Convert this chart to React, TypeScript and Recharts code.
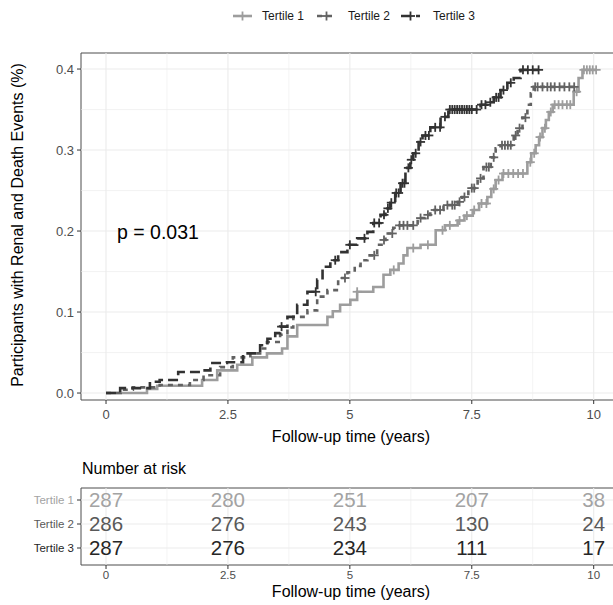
import React from 'react';
import {
  ComposedChart,
  Line,
  Scatter,
  XAxis,
  YAxis,
  ReferenceLine,
  ReferenceArea,
} from 'recharts';

const FONT = '"Liberation Sans", Arial, Helvetica, sans-serif';

// ---------- data ----------
const strataNames = ['Tertile 1', 'Tertile 2', 'Tertile 3'];

// Kaplan-Meier cumulative incidence steps: [time (years), cumulative proportion]
const tertile1Steps: [number, number][] = [
  [0, 0], [0.84, 0.005], [1.05, 0.009], [1.97, 0.016], [2.28, 0.028], [2.69, 0.035],
  [3.0, 0.044], [3.3, 0.049], [3.61, 0.055], [3.72, 0.07], [3.92, 0.084], [4.54, 0.094],
  [4.65, 0.101], [4.8, 0.109], [5.01, 0.115], [5.15, 0.125], [5.48, 0.131], [5.69, 0.146],
  [5.83, 0.152], [6.0, 0.16], [6.1, 0.17], [6.18, 0.179], [6.45, 0.183], [6.76, 0.201],
  [6.95, 0.207], [7.21, 0.213], [7.35, 0.219], [7.52, 0.226], [7.65, 0.234], [7.82, 0.242],
  [7.9, 0.252], [7.99, 0.263], [8.13, 0.271], [8.64, 0.285], [8.72, 0.296], [8.81, 0.306],
  [8.88, 0.316], [8.95, 0.327], [9.02, 0.337], [9.08, 0.347], [9.16, 0.356], [9.59, 0.372],
  [9.69, 0.389], [9.77, 0.399], [10.05, 0.399],
];
const tertile2Steps: [number, number][] = [
  [0, 0], [0.3, 0.004], [0.55, 0.007], [1.1, 0.01], [1.72, 0.016], [2.0, 0.022],
  [2.34, 0.032], [2.6, 0.044], [2.96, 0.049], [3.16, 0.055], [3.3, 0.063], [3.57, 0.072],
  [3.72, 0.081], [3.84, 0.094], [4.13, 0.102], [4.33, 0.119], [4.54, 0.127], [4.76, 0.142],
  [4.95, 0.149], [5.1, 0.157], [5.22, 0.164], [5.36, 0.17], [5.56, 0.183], [5.65, 0.189],
  [5.73, 0.197], [5.89, 0.204], [5.98, 0.207], [6.39, 0.216], [6.55, 0.22], [6.65, 0.226],
  [6.92, 0.232], [7.21, 0.236], [7.3, 0.242], [7.43, 0.253], [7.62, 0.265], [7.74, 0.279],
  [7.89, 0.291], [7.99, 0.302], [8.09, 0.306], [8.36, 0.318], [8.44, 0.327], [8.54, 0.34],
  [8.64, 0.356], [8.71, 0.37], [8.77, 0.378], [9.67, 0.378],
];
const tertile3Steps: [number, number][] = [
  [0, 0], [0.29, 0.006], [0.9, 0.014], [1.1, 0.016], [1.48, 0.026], [1.93, 0.028],
  [2.14, 0.037], [2.48, 0.038], [2.81, 0.049], [3.16, 0.059], [3.31, 0.067], [3.47, 0.074],
  [3.57, 0.082], [3.72, 0.094], [3.92, 0.109], [4.13, 0.125], [4.33, 0.14], [4.44, 0.156],
  [4.6, 0.164], [4.76, 0.174], [4.95, 0.183], [5.15, 0.191], [5.36, 0.199], [5.48, 0.21],
  [5.63, 0.22], [5.73, 0.228], [5.83, 0.235], [5.93, 0.247], [6.04, 0.259], [6.14, 0.278],
  [6.24, 0.288], [6.3, 0.296], [6.41, 0.31], [6.49, 0.318], [6.65, 0.328], [6.86, 0.341],
  [7.02, 0.35], [7.68, 0.356], [7.82, 0.359], [7.95, 0.365], [8.09, 0.374], [8.23, 0.383],
  [8.36, 0.389], [8.5, 0.399], [8.87, 0.399],
];

// censoring times (years)
const tertile1Censors = [
  5.15, 5.9, 6.3, 6.6, 6.9, 7.05, 7.25, 7.4, 7.55, 7.7, 7.8, 7.95, 8.05, 8.15, 8.25, 8.35,
  8.45, 8.55, 8.7, 8.78, 8.9, 9.0, 9.12, 9.2, 9.28, 9.36, 9.45, 9.52, 9.65, 9.8, 9.86, 9.92,
  9.98, 10.05,
];
const tertile2Censors = [
  4.9, 5.5, 5.7, 5.87, 6.02, 6.1, 6.18, 6.3, 6.45, 6.6, 6.75, 6.85, 7.0, 7.1, 7.15, 7.25,
  7.35, 7.5, 7.55, 7.68, 7.8, 7.85, 7.95, 8.12, 8.18, 8.24, 8.3, 8.4, 8.48, 8.6, 8.8, 8.85,
  8.95, 9.05, 9.12, 9.2, 9.3, 9.4, 9.5, 9.6,
];
const tertile3Censors = [
  3.6, 4.3, 4.7, 5.0, 5.3, 5.5, 5.6, 5.7, 5.78, 5.85, 5.95, 6.0, 6.08, 6.12, 6.2, 6.26,
  6.35, 6.45, 6.55, 6.62, 6.75, 6.85, 6.95, 7.05, 7.1, 7.15, 7.2, 7.25, 7.3, 7.35, 7.4,
  7.45, 7.5, 7.6, 7.7, 7.78, 7.88, 8.0, 8.05, 8.15, 8.3, 8.55, 8.65, 8.75, 8.87,
];

// number at risk at the time ticks
const atRiskTertile1 = [287, 280, 251, 207, 38];
const atRiskTertile2 = [286, 276, 243, 130, 24];
const atRiskTertile3 = [287, 276, 234, 111, 17];

const timeTicks = [0, 2.5, 5, 7.5, 10];
const timeMinorTicks = [1.25, 3.75, 6.25, 8.75];
const riskTicks = [0, 0.1, 0.2, 0.3, 0.4];
const riskMinorTicks = [0.05, 0.15, 0.25, 0.35];
const pValueLabel = 'p = 0.031';

// ---------- styling ----------
const strataColors = ['#9d9d9d', '#626262', '#323232'];
const tableTextColors = ['#a3a3a3', '#595959', '#262626'];
const strataDash = ['', '5 5', '10 5'];
const LINE_W = 2.6;
const GRID = '#ebebeb';
const BORDER = '#4d4d4d';

const X_DOMAIN: [number, number] = [-0.513, 10.56];
const Y_DOMAIN: [number, number] = [-0.0086, 0.4198];
const ROW_DOMAIN: [number, number] = [0.5, 3.708];

const allSteps = [tertile1Steps, tertile2Steps, tertile3Steps];
const allCensors = [tertile1Censors, tertile2Censors, tertile3Censors];
const allAtRisk = [atRiskTertile1, atRiskTertile2, atRiskTertile3];

const stepValueAt = (steps: [number, number][], t: number) => {
  let v = 0;
  for (const [x, y] of steps) {
    if (x <= t + 1e-9) v = y;
  }
  return v;
};

const lineData = allSteps.map((steps) => steps.map(([x, y]) => ({ x, y })));
const censorData = allCensors.map((times, i) =>
  times.map((t) => ({ x: t, y: stepValueAt(allSteps[i], t) }))
);
const tableData = allAtRisk.map((vals, i) =>
  vals.map((n, j) => ({ x: timeTicks[j], y: i + 1, n }))
);

const fmtTime = (v: number) => String(v);
const fmtRisk = (v: number) => v.toFixed(1);

const makePlus = (color: string) => (props: any) => {
  const { cx, cy } = props;
  if (cx == null || cy == null) return <g />;
  const a = 4.5;
  return (
    <g>
      <line x1={cx - a} x2={cx + a} y1={cy} y2={cy} stroke={color} strokeWidth={1.8} />
      <line x1={cx} x2={cx} y1={cy - a} y2={cy + a} stroke={color} strokeWidth={1.8} />
    </g>
  );
};

const makeCount = (color: string) => (props: any) => {
  const { cx, cy, payload } = props;
  if (cx == null || cy == null) return <g />;
  return (
    <text
      x={cx}
      y={cy}
      dy="0.36em"
      textAnchor="middle"
      fill={color}
      fontSize={20.5}
      fontFamily={FONT}
    >
      {payload.n}
    </text>
  );
};

const RowTick = (props: any) => {
  const { x, y, payload } = props;
  const idx = Math.round(payload.value) - 1;
  return (
    <text
      x={x}
      y={y}
      dy="0.35em"
      textAnchor="end"
      fill={tableTextColors[idx]}
      fontSize={11.5}
      fontFamily={FONT}
    >
      {strataNames[idx]}
    </text>
  );
};

const tickStyle = { fill: '#4d4d4d', fontSize: 13, fontFamily: FONT };

export default function App() {
  return (
    <div
      style={{
        position: 'absolute',
        left: 0,
        top: 0,
        width: 613,
        height: 605,
        overflow: 'hidden',
        background: '#ffffff',
      }}
    >
      <div style={{ position: 'absolute', left: 0, top: 0 }}>
        <ComposedChart width={625} height={450} margin={{ top: 53, right: 4, bottom: 0, left: 0 }}>
          <XAxis
            type="number"
            dataKey="x"
            domain={X_DOMAIN}
            allowDataOverflow
            ticks={timeTicks}
            interval={0}
            tickFormatter={fmtTime}
            height={50}
            tickSize={4}
            tickMargin={6}
            axisLine={false}
            tickLine={{ stroke: '#333333' }}
            tick={tickStyle}
          />
          <YAxis
            type="number"
            dataKey="y"
            domain={Y_DOMAIN}
            allowDataOverflow
            ticks={riskTicks}
            interval={0}
            tickFormatter={fmtRisk}
            width={81}
            tickSize={4}
            tickMargin={3}
            axisLine={false}
            tickLine={{ stroke: '#333333' }}
            tick={tickStyle}
          />
          {riskMinorTicks.map((v) => (
            <ReferenceLine key={'ym' + v} y={v} stroke={GRID} strokeWidth={0.6} />
          ))}
          {timeMinorTicks.map((v) => (
            <ReferenceLine key={'xm' + v} x={v} stroke={GRID} strokeWidth={0.6} />
          ))}
          {riskTicks.map((v) => (
            <ReferenceLine key={'y' + v} y={v} stroke={GRID} strokeWidth={1.1} />
          ))}
          {timeTicks.map((v) => (
            <ReferenceLine key={'x' + v} x={v} stroke={GRID} strokeWidth={1.1} />
          ))}
          {lineData.map((d, i) => (
            <Line
              key={'l' + i}
              data={d}
              dataKey="y"
              type="stepAfter"
              stroke={strataColors[i]}
              strokeWidth={LINE_W}
              strokeDasharray={strataDash[i] || undefined}
              dot={false}
              activeDot={false}
              isAnimationActive={false}
            />
          ))}
          {censorData.map((d, i) => (
            <Scatter
              key={'c' + i}
              data={d}
              dataKey="y"
              shape={makePlus(strataColors[i])}
              isAnimationActive={false}
            />
          ))}
          <ReferenceArea
            x1={X_DOMAIN[0]}
            x2={X_DOMAIN[1]}
            y1={Y_DOMAIN[0]}
            y2={Y_DOMAIN[1]}
            fill="none"
            stroke={BORDER}
            strokeWidth={1}
            ifOverflow="visible"
          />
        </ComposedChart>
      </div>

      <div style={{ position: 'absolute', left: 0, top: 455 }}>
        <ComposedChart width={625} height={150} margin={{ top: 33, right: 4, bottom: 0, left: 0 }}>
          <XAxis
            type="number"
            dataKey="x"
            domain={X_DOMAIN}
            allowDataOverflow
            ticks={timeTicks}
            interval={0}
            tickFormatter={fmtTime}
            height={40}
            tickSize={4}
            tickMargin={2}
            axisLine={false}
            tickLine={{ stroke: '#333333' }}
            tick={{ fill: '#4d4d4d', fontSize: 11.5, fontFamily: FONT }}
          />
          <YAxis
            type="number"
            dataKey="y"
            domain={ROW_DOMAIN}
            reversed
            allowDataOverflow
            ticks={[1, 2, 3]}
            interval={0}
            width={81}
            tickSize={4}
            tickMargin={3}
            axisLine={false}
            tickLine={{ stroke: '#333333' }}
            tick={<RowTick />}
          />
          {timeMinorTicks.map((v) => (
            <ReferenceLine key={'txm' + v} x={v} stroke={GRID} strokeWidth={0.6} />
          ))}
          {timeTicks.map((v) => (
            <ReferenceLine key={'tx' + v} x={v} stroke={GRID} strokeWidth={1.1} />
          ))}
          {[1, 2, 3].map((v) => (
            <ReferenceLine key={'ty' + v} y={v} stroke={GRID} strokeWidth={1.1} />
          ))}
          {tableData.map((d, i) => (
            <Scatter
              key={'t' + i}
              data={d}
              dataKey="y"
              shape={makeCount(tableTextColors[i])}
              isAnimationActive={false}
            />
          ))}
          <ReferenceArea
            x1={X_DOMAIN[0]}
            x2={X_DOMAIN[1]}
            y1={ROW_DOMAIN[0]}
            y2={ROW_DOMAIN[1]}
            fill="none"
            stroke={BORDER}
            strokeWidth={1}
            ifOverflow="visible"
          />
        </ComposedChart>
      </div>

      <svg
        width={613}
        height={605}
        style={{ position: 'absolute', left: 0, top: 0, pointerEvents: 'none' }}
        fontFamily={FONT}
      >
        {/* legend */}
        {strataNames.map((name, i) => {
          const kx = [233, 317, 401][i];
          const tx = [262, 348, 433][i];
          return (
            <g key={name}>
              <line
                x1={kx}
                x2={kx + 19}
                y1={16}
                y2={16}
                stroke={strataColors[i]}
                strokeWidth={LINE_W}
                strokeDasharray={strataDash[i] || undefined}
              />
              {makePlus(strataColors[i])({ cx: kx + 9.5, cy: 16 })}
              <text x={tx} y={20.2} fontSize={12} fill="#1a1a1a">
                {name}
              </text>
            </g>
          );
        })}
        {/* y axis title */}
        <text
          transform="translate(23,225) rotate(-90)"
          textAnchor="middle"
          fontSize={16}
          fill="#000"
        >
          Participants with Renal and Death Events (%)
        </text>
        {/* x axis title */}
        <text x={351} y={442} textAnchor="middle" fontSize={16} fill="#000">
          Follow-up time (years)
        </text>
        {/* p value */}
        <text x={117} y={239} fontSize={19.5} fill="#000">
          {pValueLabel}
        </text>
        {/* risk table title */}
        <text x={82} y={474} fontSize={16} fill="#000">
          Number at risk
        </text>
        <text x={351} y={597} textAnchor="middle" fontSize={16} fill="#000">
          Follow-up time (years)
        </text>
      </svg>
    </div>
  );
}
